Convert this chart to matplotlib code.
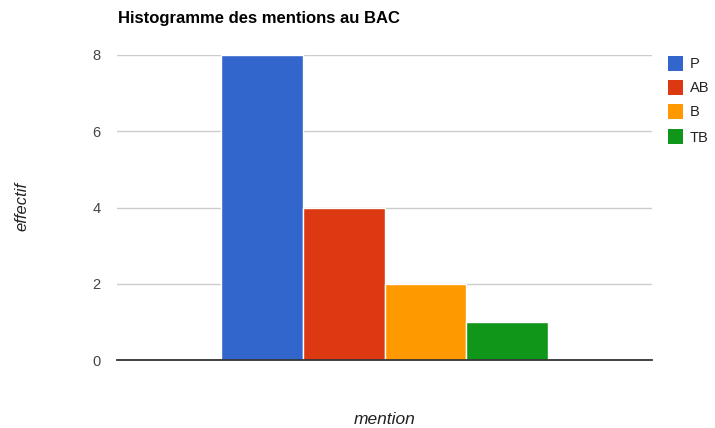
import matplotlib
matplotlib.use("Agg")
import matplotlib.pyplot as plt
from matplotlib.patches import Rectangle

plt.rcParams['font.family'] = ['Liberation Sans', 'DejaVu Sans']

categories = ["P", "AB", "B", "TB"]
counts = [8, 4, 2, 1]
colors = ["#3366cc", "#dc3912", "#ff9900", "#109618"]
yticks = [0, 2, 4, 6, 8]

fig = plt.figure(figsize=(7.15, 4.28), dpi=100)
ax = fig.add_axes([117 / 715, 1 - 360 / 428, 535 / 715, 305 / 428])

slot = 0.1528
n = len(categories)
for i, (cat, v, c) in enumerate(zip(categories, counts, colors)):
    x = (i - (n - 1) / 2) * slot
    ax.bar(x, v, width=slot, color=c, edgecolor="white", linewidth=1.0, zorder=3)

ax.set_xlim(-0.5, 0.5)
ax.set_ylim(0, 8)
ax.set_yticks(yticks)
ax.set_xticks([])
ax.grid(axis="y", color="#cccccc", linewidth=1.0, zorder=0)
for s in ["top", "right", "left"]:
    ax.spines[s].set_visible(False)
ax.spines["bottom"].set_color("#333333")
ax.spines["bottom"].set_linewidth(1.3)
ax.spines["bottom"].set_zorder(4)
ax.tick_params(axis="y", length=0, pad=12, labelsize=10.5, labelcolor="#444444")

fig.text(118 / 715, 1 - 19 / 428, "Histogramme des mentions au BAC",
         fontsize=12, fontweight="bold", va="center", ha="left", color="#000000")
fig.text(22 / 715, 1 - 206 / 428, "effectif", rotation=90, style="italic",
         fontsize=12, va="center", ha="center", color="#222222")
fig.text(385 / 715, 1 - 420 / 428, "mention", style="italic",
         fontsize=12.5, va="center", ha="center", color="#222222")

# legend on the right
rows_y = [64, 88, 112, 137]
for cat, c, yy in zip(categories, colors, rows_y):
    fig.patches.append(Rectangle((668 / 715, 1 - (yy + 7) / 428), 15 / 715, 15 / 428,
                                 transform=fig.transFigure, facecolor=c, edgecolor="none"))
    fig.text(690 / 715, 1 - (yy + 0.5) / 428, cat, fontsize=10.5, va="center",
             ha="left", color="#222222")

fig.savefig("out.png", dpi=100)
